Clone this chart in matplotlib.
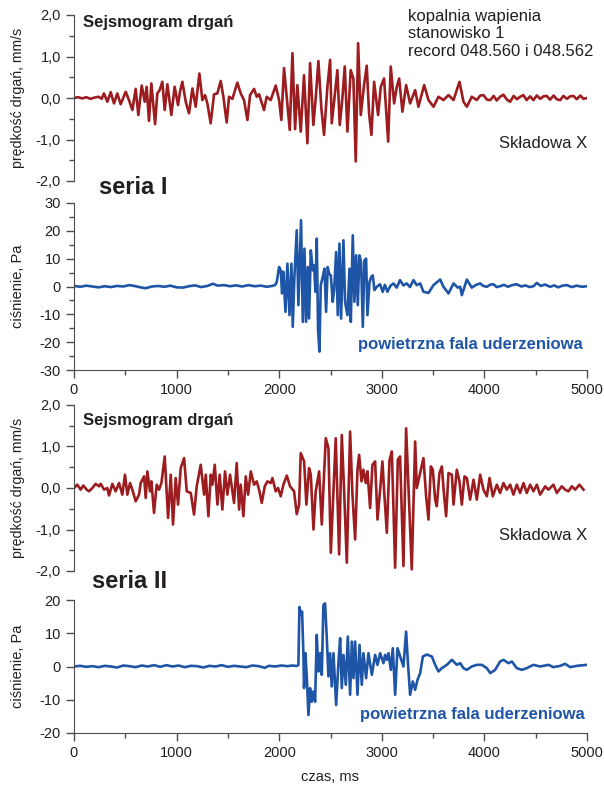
import matplotlib
matplotlib.use("Agg")
import matplotlib.pyplot as plt
from matplotlib.ticker import MultipleLocator, FuncFormatter

plt.rcParams['font.family'] = ['Liberation Sans', 'DejaVu Sans']
plt.rcParams['axes.unicode_minus'] = False

# --- data (czas w ms) ---
# seria I, sejsmogram (skladowa X), mm/s
t_seis1 = [0, 40, 80, 120, 160, 200, 240, 270, 292, 325, 358, 390, 422, 455, 504, 536, 569, 601, 627, 660,
           689, 708, 731, 754, 790, 812, 835, 861, 884, 910, 949, 981, 1014, 1033, 1056, 1089, 1121, 1154, 1186, 1222,
           1251, 1277, 1300, 1332, 1365, 1397, 1430, 1456, 1488, 1511, 1544, 1592, 1625, 1657, 1690, 1716, 1755, 1781, 1804, 1852,
           1878, 1917, 1966, 1999, 2021, 2047, 2080, 2103, 2129, 2155, 2177, 2210, 2242, 2275, 2301, 2333, 2356, 2382, 2411, 2437,
           2470, 2496, 2512, 2535, 2567, 2590, 2616, 2639, 2665, 2697, 2723, 2746, 2769, 2795, 2827, 2853, 2876, 2899, 2925, 2964,
           2990, 3022, 3062, 3087, 3120, 3146, 3169, 3201, 3237, 3276, 3325, 3357, 3413, 3455, 3504, 3552, 3601, 3650, 3699, 3757,
           3796, 3829, 3877, 3926, 3960, 3991, 4025, 4057, 4090, 4120, 4153, 4185, 4220, 4251, 4285, 4318, 4348, 4380, 4412, 4445,
           4478, 4510, 4545, 4575, 4608, 4640, 4675, 4705, 4739, 4770, 4805, 4835, 4868, 4900, 4935, 4965, 4998]
v_seis1 = [0.0, 0.02, -0.01, 0.02, -0.02, 0.01, 0.03, -0.02, 0.11, -0.09, 0.14, -0.13, 0.11, -0.15, 0.15, -0.05, -0.29, 0.22, -0.41, 0.30,
           -0.09, 0.27, -0.55, 0.35, -0.63, 0.11, 0.19, 0.39, -0.29, 0.33, -0.41, 0.27, -0.17, 0.15, 0.39, -0.09, -0.37, 0.23, -0.21, 0.59,
           -0.05, 0.07, -0.13, -0.61, 0.09, 0.11, 0.41, 0.03, -0.59, 0.03, -0.02, 0.37, 0.11, -0.05, -0.53, 0.07, 0.22, 0.03, 0.09, -0.29,
           0.03, -0.05, 0.30, -0.05, -0.53, 0.72, -0.17, -0.77, 1.08, -0.75, 0.31, -0.81, 0.55, -1.09, 0.84, -0.65, 0.0, 0.89, -0.25, -0.89,
           0.27, 0.92, -0.61, -0.09, 0.67, -0.65, 0.0, 0.76, -0.81, 0.67, 0.47, -1.53, 1.32, -0.41, 0.31, 0.78, -0.37, -0.89, 0.39, -0.41,
           0.27, 0.47, -1.05, 0.76, -0.13, 0.27, 0.47, -0.33, 0.31, -0.13, 0.19, -0.21, 0.31, -0.05, -0.21, 0.03, -0.05, 0.07, -0.05, 0.39,
           -0.09, -0.21, 0.03, -0.05, 0.06, 0.07, -0.04, -0.05, 0.05, -0.06, 0.03, 0.08, -0.04, -0.09, 0.05, -0.03, 0.03, 0.07, -0.05, 0.04,
           -0.05, 0.06, -0.02, 0.04, 0.05, -0.04, 0.06, -0.03, -0.05, 0.05, -0.02, 0.04, 0.05, -0.03, 0.06, -0.02, 0.0]

# seria I, cisnienie, Pa
t_pres1 = [0, 60, 120, 180, 240, 300, 360, 420, 480, 540, 600, 660, 700, 760, 820, 880, 940, 1000, 1060, 1120,
           1180, 1240, 1300, 1355, 1400, 1460, 1520, 1580, 1640, 1700, 1760, 1820, 1880, 1930, 1960, 1976, 1999, 2015, 2028, 2041,
           2061, 2080, 2100, 2119, 2132, 2148, 2171, 2187, 2197, 2213, 2230, 2246, 2262, 2278, 2291, 2308, 2327, 2340, 2353, 2366,
           2379, 2392, 2405, 2424, 2441, 2457, 2473, 2486, 2503, 2522, 2535, 2555, 2571, 2587, 2603, 2626, 2642, 2665, 2685, 2698,
           2717, 2733, 2750, 2766, 2782, 2798, 2815, 2831, 2847, 2860, 2880, 2896, 2912, 2928, 2951, 2983, 3009, 3030, 3055, 3085,
           3114, 3145, 3178, 3210, 3243, 3275, 3309, 3340, 3374, 3406, 3455, 3504, 3569, 3601, 3650, 3699, 3740, 3764, 3780, 3829,
           3877, 3920, 3959, 3990, 4024, 4060, 4088, 4120, 4153, 4190, 4230, 4270, 4316, 4360, 4400, 4440, 4478, 4511, 4550, 4590,
           4641, 4680, 4720, 4760, 4804, 4850, 4900, 4950, 4999]
v_pres1 = [0.2, -0.1, 0.3, 0.0, -0.3, 0.1, -0.2, 0.2, 0.0, 0.5, 0.1, -0.4, -0.6, 0.0, 0.2, -0.1, 0.3, -0.3, -0.4, 0.1,
           0.4, -0.2, 0.2, 1.0, 0.3, 0.5, 0.1, 0.4, 0.0, 0.5, 0.1, 0.3, -0.1, 0.2, 0.5, 1.6, 7.0, 5.8, -2.5, 5.3,
           -9.1, 8.2, -10.3, 8.2, -14.5, 3.4, 20.2, -6.7, 5.3, 23.8, -12.7, 13.6, -12.7, 7.0, -11.5, 13.0, 5.8, 7.6, -1.9, 17.2,
           -15.7, -23.4, 0.5, 3.4, 6.4, -9.1, 7.0, 4.6, 4.0, -5.5, -1.3, 12.4, -10.3, 15.4, -11.5, 16.6, -5.5, -10.3, 6.4, -12.7,
           18.4, -5.5, 11.2, -6.7, 11.2, 8.8, -14.5, 9.4, 10.0, -10.3, 1.6, 3.4, 4.0, -1.3, -0.1, 0.8, -1.9, 0.6, -1.9, 0.3,
           1.1, -0.4, 2.3, 0.4, 1.1, -0.2, 2.3, 0.5, 1.1, -1.9, -2.3, 0.5, 2.5, -0.1, -2.5, 1.1, -0.4, -0.1, -3.1, 2.5,
           -0.4, 0.6, 1.1, 0.2, -0.1, 0.7, 0.8, -0.2, 0.1, 0.6, -0.1, 0.5, 0.8, 0.0, 0.4, -0.2, 0.1, 1.3, 0.2, 0.7,
           -0.1, 0.4, -0.3, 0.3, 0.5, -0.2, 0.3, -0.1, 0.1]

# seria II, sejsmogram (skladowa X), mm/s
t_seis2 = [0, 32, 65, 91, 124, 146, 179, 211, 244, 260, 293, 325, 341, 374, 406, 439, 471, 497, 520, 546,
           569, 601, 634, 650, 683, 699, 715, 741, 754, 780, 806, 829, 852, 884, 917, 943, 965, 991, 1014, 1040,
           1073, 1099, 1138, 1170, 1196, 1235, 1268, 1284, 1310, 1333, 1349, 1372, 1398, 1420, 1446, 1472, 1495, 1521, 1560, 1586,
           1609, 1625, 1651, 1674, 1697, 1723, 1755, 1781, 1804, 1830, 1859, 1885, 1918, 1934, 1966, 1989, 2015, 2041, 2074, 2106,
           2145, 2171, 2194, 2210, 2243, 2265, 2291, 2308, 2334, 2356, 2389, 2415, 2431, 2454, 2480, 2503, 2529, 2551, 2584, 2610,
           2633, 2659, 2691, 2714, 2740, 2763, 2779, 2802, 2821, 2844, 2860, 2886, 2909, 2935, 2958, 2984, 3006, 3023, 3049, 3075,
           3098, 3130, 3156, 3178, 3211, 3237, 3260, 3292, 3325, 3341, 3374, 3406, 3432, 3455, 3478, 3497, 3520, 3536, 3562, 3585,
           3608, 3627, 3650, 3683, 3699, 3731, 3757, 3780, 3806, 3829, 3861, 3894, 3926, 3959, 3991, 4024, 4050, 4082, 4121, 4153,
           4186, 4218, 4251, 4283, 4316, 4348, 4381, 4413, 4446, 4478, 4511, 4543, 4592, 4624, 4673, 4706, 4754, 4787, 4819, 4852,
           4884, 4927, 4966]
v_seis2 = [0.0, 0.08, -0.04, 0.06, -0.04, -0.08, 0.0, 0.10, 0.04, 0.10, -0.04, 0.0, -0.18, 0.10, -0.08, 0.12, -0.16, 0.32, -0.16, 0.12,
           -0.04, -0.32, -0.16, 0.12, 0.28, -0.24, 0.40, -0.08, 0.16, -0.60, 0.08, -0.04, 0.12, 0.76, -0.72, 0.32, -0.88, 0.24, -0.40, 0.48,
           0.72, -0.08, -0.12, -0.64, 0.04, 0.56, -0.16, 0.32, -0.68, 0.32, 0.08, 0.56, -0.40, 0.32, -0.52, 0.40, -0.16, 0.32, -0.36, 0.60,
           -0.52, 0.08, -0.68, 0.28, -0.16, 0.40, 0.08, 0.16, -0.04, -0.36, 0.04, 0.16, 0.12, 0.24, -0.08, 0.0, -0.20, 0.08, 0.30, 0.04,
           -0.08, -0.63, -0.40, 0.84, 0.64, -0.40, 0.48, 0.32, -1.0, -0.08, 0.40, -0.88, 0.0, 1.20, 0.96, -1.56, -0.08, 1.20, -1.60, 1.28,
           -0.08, -1.80, 1.36, -0.16, -1.24, 0.44, 0.80, 0.16, 0.44, 0.12, 0.40, -0.48, 0.56, 0.64, -0.76, -0.04, 0.64, -0.08, -1.08, 0.67,
           0.88, -1.92, 0.68, 0.76, -1.88, 1.44, 0.04, -1.96, 1.12, 0.0, 0.36, 0.72, -0.20, -0.76, 0.52, 0.44, -0.28, -0.44, 0.36, 0.52,
           -0.20, -0.68, 0.36, 0.32, -0.40, 0.44, 0.16, -0.40, 0.28, 0.24, -0.28, 0.20, -0.28, 0.32, -0.04, -0.20, 0.24, -0.20, 0.08, -0.12,
           0.12, -0.04, 0.08, -0.16, 0.08, -0.12, 0.12, -0.12, 0.08, -0.08, 0.08, -0.16, 0.04, -0.04, 0.08, -0.12, 0.04, -0.04, -0.08, 0.04,
           -0.04, 0.08, -0.04]

# seria II, cisnienie, Pa
t_pres2 = [0, 60, 120, 180, 240, 300, 360, 420, 480, 540, 600, 660, 720, 780, 840, 900, 960, 1020, 1080, 1140,
           1200, 1260, 1320, 1380, 1440, 1500, 1560, 1620, 1680, 1740, 1800, 1860, 1900, 1960, 2020, 2080, 2130, 2171, 2187, 2197,
           2213, 2223, 2236, 2242, 2255, 2269, 2285, 2301, 2317, 2334, 2350, 2366, 2382, 2399, 2415, 2431, 2447, 2464, 2480, 2496,
           2512, 2529, 2555, 2578, 2594, 2610, 2626, 2649, 2669, 2691, 2708, 2724, 2740, 2763, 2783, 2805, 2821, 2847, 2870, 2903,
           2935, 2958, 2984, 3016, 3032, 3049, 3065, 3088, 3107, 3130, 3153, 3179, 3211, 3237, 3254, 3276, 3302, 3325, 3348, 3374,
           3400, 3439, 3488, 3520, 3552, 3585, 3634, 3683, 3731, 3764, 3796, 3829, 3877, 3926, 3975, 4024, 4057, 4105, 4153, 4186,
           4235, 4268, 4316, 4364, 4413, 4478, 4543, 4624, 4673, 4739, 4787, 4836, 4901, 4998]
v_pres2 = [0.0, 0.2, -0.1, 0.1, -0.2, 0.2, 0.0, -0.3, 0.3, 0.1, -0.2, 0.3, 0.0, 0.4, -0.1, 0.4, 0.0, 0.3, -0.2, 0.2,
           0.1, -0.3, 0.2, 0.0, 0.4, -0.1, 0.2, 0.0, -0.2, 0.3, 0.1, -0.4, 0.2, 0.0, 0.3, 0.1, 0.3, 0.15, 0.45, 17.9,
           15.5, 16.5, 3.5, -6.5, 4.0, -3.0, -14.6, -6.5, -10.6, -7.5, -10.6, 9.5, -1.5, 4.0, -2.5, 18.5, 19.0, 8.5, -3.0, 4.0,
           -6.0, 4.0, -11.6, 1.5, 8.5, -6.5, 3.5, -5.5, 9.0, -8.5, 7.5, -3.5, 7.5, -8.5, 6.5, -5.5, 4.0, -3.5, 4.0, -2.5,
           3.5, 0.5, 4.0, 1.0, 3.5, 2.0, 4.0, -1.0, 5.5, -8.5, 5.5, 3.0, 0.0, 10.5, 1.5, -8.5, -4.5, -7.0, -4.0, -2.0,
           3.0, 3.6, 3.0, 0.5, -1.5, -0.5, 0.5, 2.0, 0.5, 1.0, -0.5, -1.0, 0.0, 0.5, 0.5, -0.5, -2.0, -1.0, 1.5, 2.0,
           1.0, 1.5, -0.5, -1.0, -0.5, 0.5, 0.0, 0.5, -0.2, 0.2, 0.8, -0.2, 0.2, 0.5]

red = '#9c1c1f'
blue = '#1f55a6'
txt = '#231f20'
spine_c = '#4d4d4d'

fig = plt.figure(figsize=(6.04, 7.85), dpi=100)
L, W = 74 / 604, 513 / 604


def ax_at(top_px, bottom_px):
    return fig.add_axes([L, 1 - bottom_px / 785, W, (bottom_px - top_px) / 785])


def style(ax, show_x):
    for s in ['top', 'right']:
        ax.spines[s].set_visible(False)
    ax.spines['left'].set_color(spine_c)
    ax.spines['bottom'].set_color(spine_c)
    ax.set_xlim(0, 5000)
    ax.tick_params(axis='both', which='major', length=6, width=1, color=spine_c,
                   labelsize=10.5, labelcolor=txt, direction='out')
    ax.tick_params(axis='both', which='minor', length=3.5, width=1, color=spine_c, direction='out')
    ax.patch.set_alpha(0)
    if show_x:
        ax.xaxis.set_major_locator(MultipleLocator(1000))
        ax.xaxis.set_minor_locator(MultipleLocator(500))
    else:
        ax.spines['bottom'].set_visible(False)
        ax.set_xticks([])


comma_fmt = FuncFormatter(lambda v, p: ('%.1f' % v).replace('.', ','))

# panel 1 - sejsmogram seria I
ax1 = ax_at(15, 181)
ax1.plot(t_seis1, v_seis1, color=red, lw=1.9)
ax1.set_ylim(-2, 2)
ax1.yaxis.set_major_locator(MultipleLocator(1))
ax1.yaxis.set_minor_locator(MultipleLocator(0.5))
ax1.yaxis.set_major_formatter(comma_fmt)
style(ax1, False)

# panel 2 - cisnienie seria I
ax2 = ax_at(203, 370)
ax2.plot(t_pres1, v_pres1, color=blue, lw=1.9)
ax2.set_ylim(-30, 30)
ax2.yaxis.set_major_locator(MultipleLocator(10))
ax2.yaxis.set_minor_locator(MultipleLocator(5))
style(ax2, True)

# panel 3 - sejsmogram seria II
ax3 = ax_at(405, 571)
ax3.plot(t_seis2, v_seis2, color=red, lw=1.9)
ax3.set_ylim(-2, 2)
ax3.yaxis.set_major_locator(MultipleLocator(1))
ax3.yaxis.set_minor_locator(MultipleLocator(0.5))
ax3.yaxis.set_major_formatter(comma_fmt)
style(ax3, False)

# panel 4 - cisnienie seria II
ax4 = ax_at(600, 733)
ax4.plot(t_pres2, v_pres2, color=blue, lw=1.9)
ax4.set_ylim(-20, 20)
ax4.yaxis.set_major_locator(MultipleLocator(10))
style(ax4, True)


def ftext(x, y, s, **kw):
    kw.setdefault('color', txt)
    kw.setdefault('fontsize', 12)
    fig.text(x / 604, 1 - y / 785, s, **kw)


ftext(18, 98, 'prędkość drgań, mm/s', rotation=90, ha='center', va='center', fontsize=10.2)
ftext(18, 286, 'ciśnienie, Pa', rotation=90, ha='center', va='center', fontsize=10.5)
ftext(18, 488, 'prędkość drgań, mm/s', rotation=90, ha='center', va='center', fontsize=10.2)
ftext(18, 666, 'ciśnienie, Pa', rotation=90, ha='center', va='center', fontsize=10.5)
ftext(330, 777, 'czas, ms', ha='center', va='center', fontsize=10.5)

ftext(83, 22, 'Sejsmogram drgań', fontweight='bold', va='center')
ftext(83, 420, 'Sejsmogram drgań', fontweight='bold', va='center')
ftext(408, 16, 'kopalnia wapienia', va='center')
ftext(408, 34, 'stanowisko 1', va='center')
ftext(408, 52, 'record 048.560 i 048.562', va='center')
ftext(587, 143, 'Składowa X', ha='right', va='center')
ftext(587, 535, 'Składowa X', ha='right', va='center')
ftext(99, 188, 'seria I', fontweight='bold', fontsize=17, va='center')
ftext(92, 582, 'seria II', fontweight='bold', fontsize=17, va='center')
ftext(583, 344, 'powietrzna fala uderzeniowa', fontweight='bold', color=blue, ha='right', va='center')
ftext(585, 715, 'powietrzna fala uderzeniowa', fontweight='bold', color=blue, ha='right', va='center')

fig.savefig('out.png', dpi=100)
